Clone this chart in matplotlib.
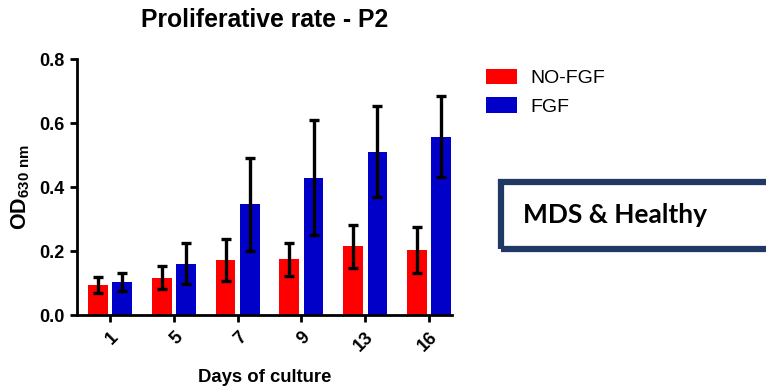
import numpy as np
from matplotlib import pyplot as plt
from matplotlib.patches import Rectangle

plt.rc('font', family=['Liberation Sans', 'DejaVu Sans'], weight='bold')
plt.rc('mathtext', fontset='custom', rm='Liberation Sans',
       bf='Liberation Sans:bold')

days = ['1', '5', '7', '9', '13', '16']
no_fgf = [0.094, 0.117, 0.172, 0.174, 0.215, 0.203]
no_fgf_err = [0.025, 0.035, 0.067, 0.051, 0.068, 0.071]
fgf = [0.102, 0.161, 0.346, 0.430, 0.511, 0.558]
fgf_err = [0.028, 0.063, 0.145, 0.180, 0.142, 0.126]

red = '#ff0000'
blue = '#0000c8'

fig = plt.figure(figsize=(7.66, 3.89), dpi=100)
ax = fig.add_axes([0.1005, 0.190, 0.4896, 0.658])

x = np.arange(len(days))
w = 0.31
off = 0.19
err_kw = dict(ecolor='black', elinewidth=2.4, capsize=3.5, capthick=2.4)
ax.bar(x - off, no_fgf, w, color=red, yerr=no_fgf_err, error_kw=err_kw,
       label='NO-FGF')
ax.bar(x + off, fgf, w, color=blue, yerr=fgf_err, error_kw=err_kw,
       label='FGF')

ax.set_xlim(-0.52, 5.36)
ax.set_ylim(0, 0.8)
ax.set_yticks([0, 0.2, 0.4, 0.6, 0.8])
ax.set_yticklabels(['0.0', '0.2', '0.4', '0.6', '0.8'])
ax.set_xticks(x)
ax.set_xticklabels(days, rotation=45, ha='right', rotation_mode='anchor')
ax.tick_params(labelsize=13, width=2, length=5)
ax.tick_params(axis='x', pad=5)
ax.tick_params(axis='y', pad=4)
for s in ['top', 'right']:
    ax.spines[s].set_visible(False)
for s in ['left', 'bottom']:
    ax.spines[s].set_linewidth(2)

ax.set_title('Proliferative rate - P2', fontsize=17.8, fontweight='bold', pad=23)
ax.set_ylabel('$\\mathbf{OD}_{\\mathrm{630\\ nm}}$', fontsize=15.5, labelpad=5)
ax.set_xlabel('Days of culture', fontsize=13.3, fontweight='bold', labelpad=10)

leg = fig.legend(loc='upper left', bbox_to_anchor=(0.612, 0.868),
                 frameon=False, prop=dict(weight='normal', size=14),
                 handlelength=1.6, handleheight=0.85, handletextpad=0.65,
                 labelspacing=0.5)

# annotation box on the right
fig.patches.append(Rectangle((0.654, 0.361), 0.36, 0.17,
                             transform=fig.transFigure, fill=False,
                             edgecolor='#1f3864', linewidth=4.5))
fig.text(0.683, 0.447, 'MDS & Healthy', fontsize=19, fontweight='bold',
         family=['Lato', 'DejaVu Sans'], va='center', ha='left')

plt.savefig('out.png', dpi=100, facecolor='white')
